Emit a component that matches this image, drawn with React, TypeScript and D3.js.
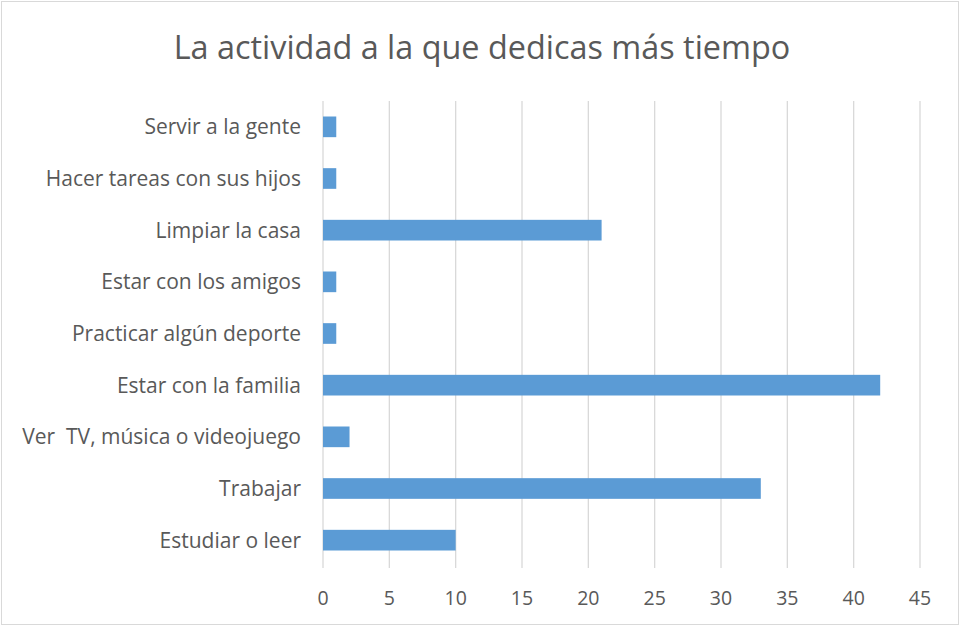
import React from 'react'
import * as d3 from 'd3'

const categories = [
  'Servir a la gente',
  'Hacer tareas con sus hijos',
  'Limpiar la casa',
  'Estar con los amigos',
  'Practicar algún deporte',
  'Estar con la familia',
  'Ver  TV, música o videojuego',
  'Trabajar',
  'Estudiar o leer'
]
const values = [1, 1, 21, 1, 1, 42, 2, 33, 10]
const ticks = [0, 5, 10, 15, 20, 25, 30, 35, 40, 45]

const width = 960
const height = 626
const font = '"Open Sans", Lato, sans-serif'
const textColor = '#595959'

export default function App() {
  const x = d3.scaleLinear().domain([0, 45]).range([323, 920])
  const y = d3
    .scaleBand()
    .domain(categories)
    .range([101, 566])
    .paddingInner(0.6)
    .paddingOuter(0.3)

  return (
    <div style={{ position: 'absolute', left: 0, top: 0 }}>
      <svg width={width} height={height} style={{ display: 'block' }}>
        <rect x={0} y={0} width={width} height={height} fill="#fff" />
        <rect
          x={1.5}
          y={1.5}
          width={width - 3}
          height={height - 3}
          fill="none"
          stroke="#d9d9d9"
        />
        <text
          x={482}
          y={59}
          textAnchor="middle"
          fontFamily={font}
          fontSize={32.4}
          fill={textColor}
        >
          La actividad a la que dedicas más tiempo
        </text>
        {ticks.map(t => (
          <g key={t}>
            <line
              x1={x(t)}
              x2={x(t)}
              y1={101}
              y2={568}
              stroke="#d9d9d9"
              strokeWidth={1.3}
            />
            <text
              x={x(t)}
              y={605}
              textAnchor="middle"
              fontFamily={font}
              fontSize={19.5}
              fill={textColor}
            >
              {t}
            </text>
          </g>
        ))}
        {categories.map((c, i) => (
          <g key={c}>
            <rect
              x={x(0)}
              y={y(c)}
              width={x(values[i]) - x(0)}
              height={y.bandwidth()}
              fill="#5b9bd5"
            />
            <text
              x={301}
              y={(y(c) || 0) + y.bandwidth() / 2}
              dy="0.35em"
              textAnchor="end"
              fontFamily={font}
              fontSize={21}
              fill={textColor}
              style={{ whiteSpace: 'pre' }}
            >
              {c}
            </text>
          </g>
        ))}
      </svg>
    </div>
  )
}
